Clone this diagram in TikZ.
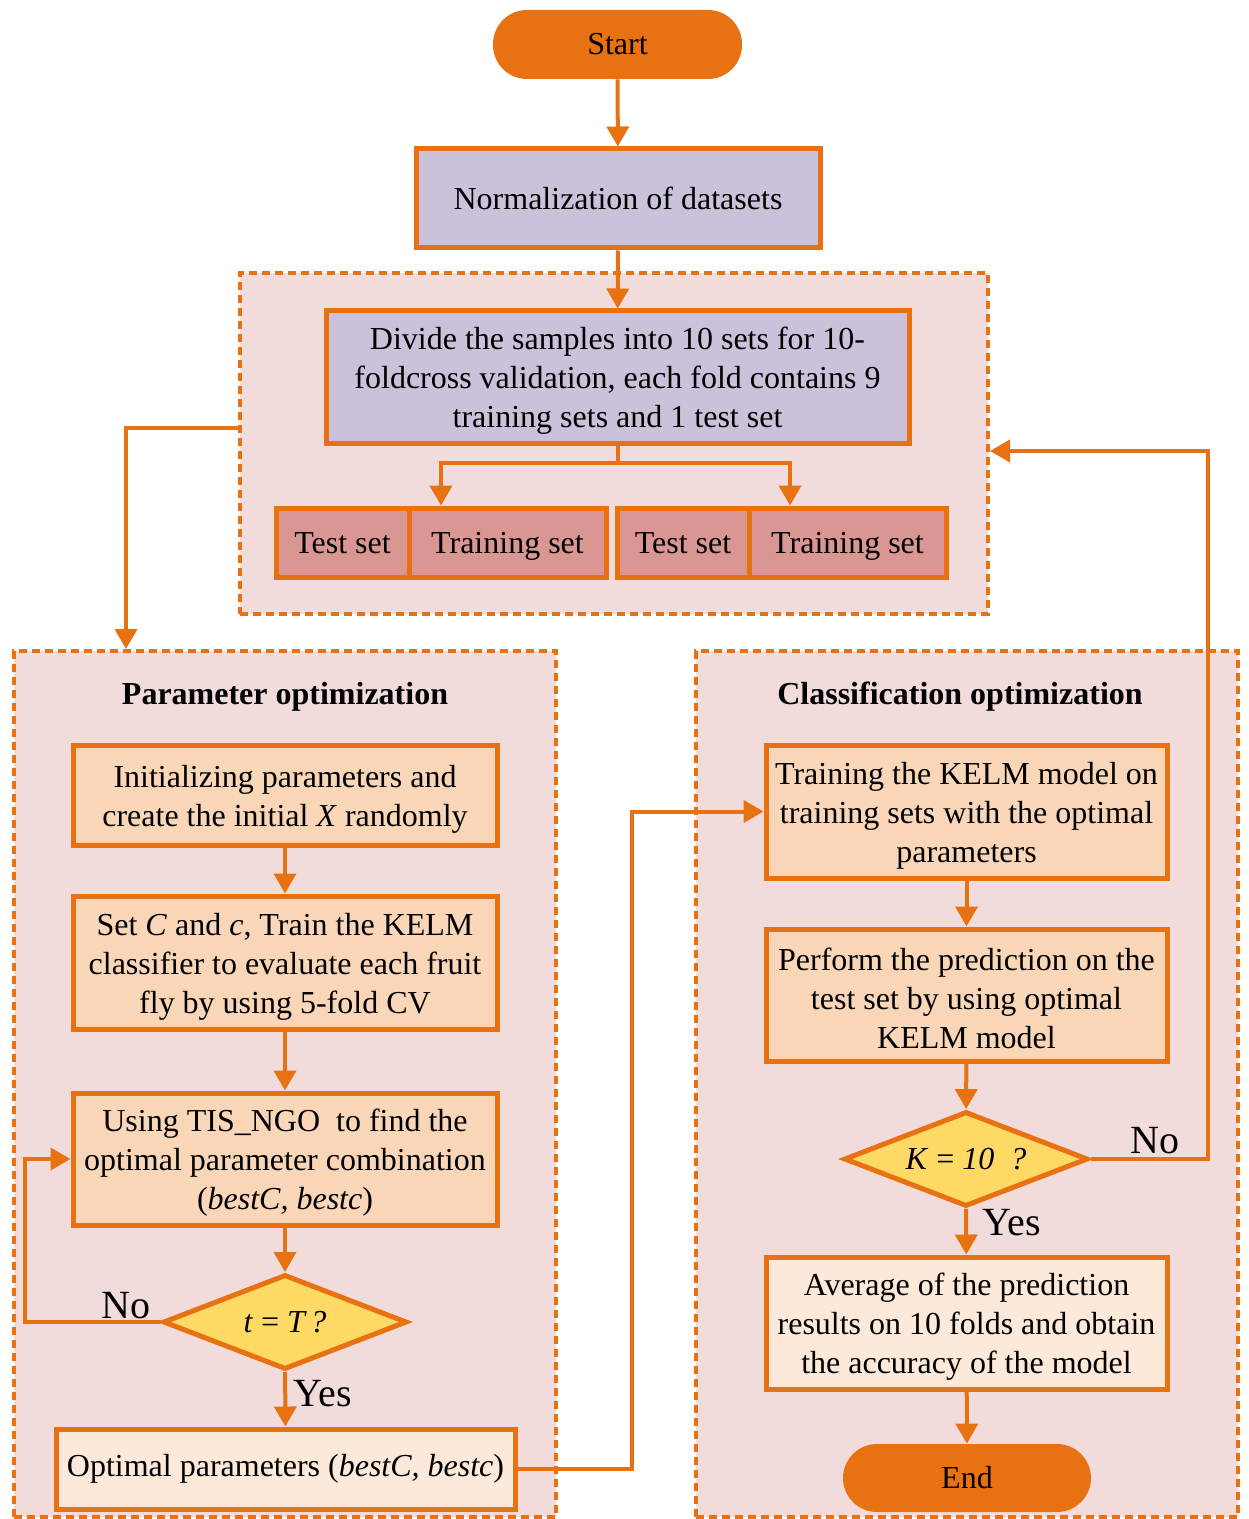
\documentclass[tikz,border=0pt]{standalone}
\usepackage{fontspec}
\setmainfont{Liberation Serif}
\usetikzlibrary{shapes.geometric,arrows.meta,calc}
\definecolor{org}{RGB}{232,114,18}
\definecolor{lav}{RGB}{204,193,218}
\definecolor{zone}{RGB}{242,220,219}
\definecolor{rose}{RGB}{218,150,146}
\definecolor{peach}{RGB}{250,214,184}
\definecolor{light}{RGB}{253,233,217}
\definecolor{yel}{RGB}{255,217,102}
\tikzset{
  txt/.style={font=\fontsize{16}{19.5}\selectfont, align=center, inner sep=0pt},
  box/.style={txt, draw=org, line width=2.5pt, rectangle},
  setbox/.style={box, fill=rose, minimum height=34.5pt, text height=13pt, text depth=2.4pt},
  term/.style={txt, fill=org, draw=none, rectangle, rounded corners=17pt},
  zonebox/.style={draw=org, fill=zone, line width=2pt, dash pattern=on 4pt off 2.5pt, rectangle, inner sep=0pt},
  diam/.style={txt, diamond, draw=org, fill=yel, line width=2.5pt, minimum width=122pt, minimum height=47.5pt, aspect=2.57},
  arr/.style={draw=org, line width=2pt, -{Triangle[length=10pt,width=11pt]}},
  ln/.style={draw=org, line width=2pt},
  lbl/.style={font=\fontsize{20}{24}\selectfont, inner sep=0pt},
  ttl/.style={font=\fontsize{16}{19.5}\selectfont\bfseries, inner sep=0pt},
}
\begin{document}
\begin{tikzpicture}[x=0.5pt,y=-0.5pt]
\useasboundingbox (0,0) rectangle (1248,1519);
% zones
\node[zonebox, minimum width=374pt, minimum height=170.5pt] (topbox) at (614,443.5) {};
\node[zonebox, minimum width=271pt, minimum height=433pt] (leftbox) at (285,1084) {};
\node[zonebox, minimum width=271pt, minimum height=433pt] (rightbox) at (967,1084) {};
% top
\node[term, minimum width=124.5pt, minimum height=34.5pt] (start) at (617.5,44.5) {Start};
\node[box, fill=lav, minimum width=202pt, minimum height=49.5pt] (norm) at (618,198.5) {Normalization of datasets};
\node[box, fill=lav, minimum width=291.5pt, minimum height=66pt] (divide) at (617.5,377) {\rule{0pt}{15pt}Divide the samples into 10 sets for 10-\\foldcross validation, each fold contains 9\\training sets and 1 test set};
\node[setbox, minimum width=66.5pt] (test1) at (342.5,542.5) {Test set};
\node[setbox, minimum width=98.5pt] (train1) at (507.5,542.5) {Training set};
\node[setbox, minimum width=66pt] (test2) at (683,542.5) {Test set};
\node[setbox, minimum width=98.5pt] (train2) at (847.5,542.5) {Training set};
% left column
\node[ttl] (ttlL) at (285,697) {Parameter optimization};
\node[box, fill=peach, minimum width=212pt, minimum height=50pt] (b1) at (285,795) {\rule{0pt}{15pt}Initializing parameters and\\create the initial \textit{X} randomly};
\node[box, fill=peach, minimum width=212pt, minimum height=66.5pt] (b2) at (285,962.5) {\rule{0pt}{15pt}Set \textit{C} and \textit{c}, Train the KELM\\classifier to evaluate each fruit\\fly by using 5-fold CV};
\node[box, fill=peach, minimum width=212pt, minimum height=66pt] (b3) at (285,1159) {\rule{0pt}{15pt}Using TIS\_NGO\ \ to find the\\optimal parameter combination\\(\textit{bestC, bestc})};
\node[diam] (dL) at (285,1322) {\textit{t} = \textit{T\,?}};
\node[box, fill=light, minimum width=229.5pt, minimum height=40pt] (opt) at (285.5,1469) {Optimal parameters (\textit{bestC, bestc})};
\node[lbl] (noL) at (126,1306) {No};
\node[lbl] (yesL) at (323,1394) {Yes};
% right column
\node[ttl] (ttlR) at (960,697) {Classification optimization};
\node[box, fill=peach, minimum width=200.5pt, minimum height=66.5pt] (r1) at (966.5,811.5) {\rule{0pt}{15pt}Training the KELM model on\\training sets with the optimal\\parameters};
\node[box, fill=peach, minimum width=200.5pt, minimum height=66pt] (r2) at (966.5,995) {\rule{0pt}{15pt}Perform the prediction on the\\test set by using optimal\\KELM model};
\node[diam] (dR) at (966,1159) {\textit{K} = \textit{10\ \ ?}};
\node[box, fill=light, minimum width=200.5pt, minimum height=66pt] (r3) at (966.5,1323) {\rule{0pt}{15pt}Average of the prediction\\results on 10 folds and obtain\\the accuracy of the model};
\node[term, minimum width=124pt, minimum height=34pt] (end) at (967,1478) {End};
\node[lbl] (noR) at (1155,1141) {No};
\node[lbl] (yesR) at (1012,1223) {Yes};
% coordinates
\coordinate (split) at (617.5,463);
\coordinate (s1) at (441,463);
\coordinate (s2) at (790,463);
\coordinate (lk) at (126,428);
\coordinate (rk) at (1208,451);
\coordinate (nk) at (25,1322);
\coordinate (ok) at (632,1469);
% connectors
\draw[arr] (start) -- (norm);
\draw[arr] (norm) -- (divide);
\draw[ln] (divide.south) -- (split);
\draw[arr] (split) -- (s1) -- (s1 |- train1.north);
\draw[arr] (split) -- (s2) -- (s2 |- train2.north);
\draw[arr] (topbox.west |- lk) -- (lk) -- (lk |- leftbox.north);
\draw[arr] (b1) -- (b2);
\draw[arr] (b2) -- (b3);
\draw[arr] (b3) -- (dL);
\draw[arr] (dL) -- (opt);
\draw[arr] (dL.west) -- (nk) |- (b3.west);
\draw[arr] (opt.east) -- (ok) |- (r1.west);
\draw[arr] (r1) -- (r2);
\draw[arr] (r2) -- (dR);
\draw[arr] (dR) -- (r3);
\draw[arr] (r3) -- (end);
\draw[arr] (dR.east) -| (rk) -- (topbox.east |- rk);
\end{tikzpicture}
\end{document}
